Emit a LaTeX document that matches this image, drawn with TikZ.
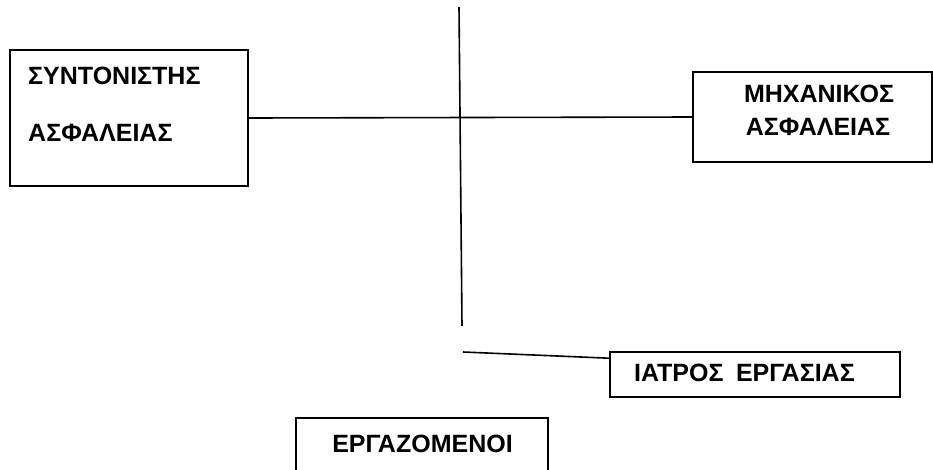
\documentclass[tikz,border=0pt]{standalone}
\usepackage{fontspec}
\setmainfont{Liberation Sans Bold}
\begin{document}
\begin{tikzpicture}[x=1pt,y=-1pt,
  box/.style={draw=black,line width=1.6pt,rectangle,inner sep=0pt},
  lbl/.style={font=\fontsize{25}{29}\selectfont,inner sep=0pt},
  conn/.style={draw=black,line width=1.6pt}]
\useasboundingbox (0,0) rectangle (933,469);
\clip (0,0) rectangle (933,469);
% boxes
\node[box,minimum width=238pt,minimum height=136pt] (S) at (129,118) {};
\node[box,minimum width=239pt,minimum height=90pt] (M) at (812.5,117) {};
\node[box,minimum width=290pt,minimum height=45pt] (I) at (755,374.5) {};
\node[box,minimum width=252pt,minimum height=80pt] (E) at (422,458) {};
% texts
\node[lbl,anchor=west] (s1) at (28,75.5) {ΣΥΝΤΟΝΙΣΤΗΣ};
\node[lbl,anchor=west] (s2) at (28,132.5) {ΑΣΦΑΛΕΙΑΣ};
\node[lbl] (m1) at (819,94) {ΜΗΧΑΝΙΚΟΣ};
\node[lbl] (m2) at (818,127) {ΑΣΦΑΛΕΙΑΣ};
\node[lbl] (i1) at (744.5,373) {ΙΑΤΡΟΣ\hspace{0.5em}ΕΡΓΑΣΙΑΣ};
\node[lbl] (e1) at (422.5,444) {ΕΡΓΑΖΟΜΕΝΟΙ};
% connectors
\coordinate (vt) at (459,7);
\coordinate (vb) at (462,326);
\coordinate (ds) at (463,352);
\draw[conn] (S.east) -- (M.west);
\draw[conn] (vt) -- (vb);
\draw[conn] (ds) -- ([yshift=-7pt]I.north west);
\end{tikzpicture}
\end{document}
